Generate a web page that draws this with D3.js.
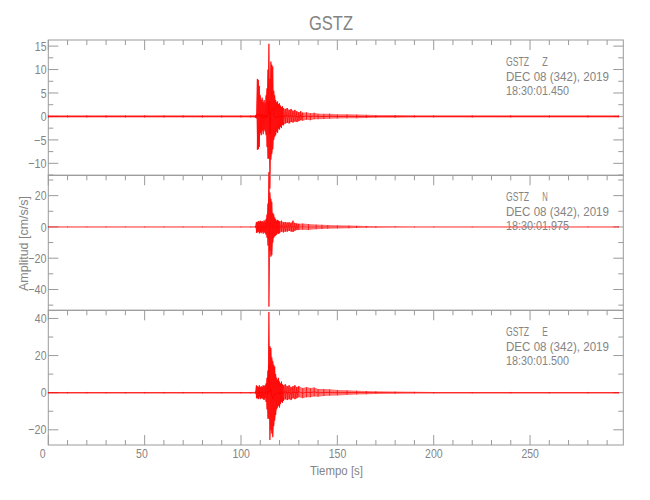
<!DOCTYPE html>
<html><head><meta charset="utf-8">
<script src="https://cdn.jsdelivr.net/npm/d3@7"></script>
<style>
body{margin:0;background:#fff}
text{font-family:'Liberation Sans','DejaVu Sans',sans-serif;fill:#848484}
</style>
</head><body>
<svg id="c" width="650" height="500"></svg>
<script>
// ---------- data ----------
const station = "GSTZ";
const dateLabel = "DEC 08 (342), 2019";
const components = ["Z", "N", "E"];
const startTimes = ["18:30:01.450", "18:30:01.975", "18:30:01.500"];
const xTicks = [0, 50, 100, 150, 200, 250];
const timeDomain = [0, 298.4];

const zTicks = [-10, -5, 0, 5, 10, 15];
const nTicks = [-40, -20, 0, 20];
const eTicks = [-20, 0, 20, 40];
const zRange = [-12.55, 16.3];
const nRange = [-53.3, 33];
const eRange = [-28.2, 44.4];

// envelope of each trace (time [s], upper and lower amplitude [cm/s/s])
const zTime = [0,10,20,30,40,50,60,70,80,90,100,105,107.5,108,108.5,109,109.5,110,110.5,111,111.5,112,112.5,113,113.5,114,114.5,115,115.5,116,116.5,117,117.5,118,118.5,119,119.5,120,120.5,121,121.5,122,123,124,125,126,127,128,129,130,131,132,134,136,138,140,143,146,150,155,160,165,170,180,190,200,220,240,260,280,296];
const zUp   = [0.25,0.25,0.25,0.25,0.25,0.25,0.25,0.25,0.25,0.25,0.25,0.25,0.3,0.4,8.0,7.8,6.5,4.5,3.5,4.0,3.0,3.5,2.8,4.5,6.0,10.0,15.5,8.0,11.7,11.0,10.6,5.5,4.5,3.5,3.0,3.2,2.6,2.8,2.3,2.0,2.2,1.8,1.6,1.8,1.4,1.6,1.2,1.4,1.1,0.9,1.1,0.8,0.9,0.7,0.8,0.6,0.55,0.6,0.45,0.45,0.4,0.35,0.3,0.3,0.25,0.25,0.25,0.25,0.25,0.25,0.25];
const zLow  = [-0.25,-0.25,-0.25,-0.25,-0.25,-0.25,-0.25,-0.25,-0.25,-0.25,-0.25,-0.25,-0.3,-0.4,-7.1,-7.0,-6.5,-3.5,-4.0,-3.0,-3.8,-2.8,-3.2,-4.0,-6.5,-9.0,-9.0,-15.4,-9.2,-8.0,-7.0,-5.0,-4.3,-4.0,-3.2,-3.5,-2.6,-2.8,-2.2,-2.5,-1.8,-1.9,-1.5,-1.4,-1.5,-1.2,-1.3,-1.1,-1.2,-1.0,-0.8,-0.9,-0.7,-0.8,-0.6,-0.6,-0.55,-0.5,-0.45,-0.4,-0.4,-0.35,-0.3,-0.3,-0.25,-0.25,-0.25,-0.25,-0.25,-0.25,-0.25];

const nTime = [0,10,20,30,40,50,60,70,80,90,100,105,107.5,108,108.5,109,109.5,110,110.5,111,111.5,112,112.5,113,113.5,114,114.5,115,115.5,116,116.5,117,117.5,118,118.5,119,119.5,120,121,122,123,124,125,126,127,128,129,130,132,135,139,142,145,150,156,160,165,170,180,190,200,220,240,260,280,296];
const nUp   = [0.3,0.3,0.3,0.3,0.3,0.3,0.3,0.3,0.3,0.3,0.3,0.3,0.4,3.2,3.0,3.8,3.3,4.0,3.3,3.8,3.0,4.2,3.4,5.0,8.0,15.0,35.0,22.0,18.0,16.0,9.0,8.0,6.0,5.0,4.0,4.5,4.0,3.5,4.0,3.0,3.2,2.8,3.0,2.6,4.0,2.5,2.2,2.0,2.2,1.8,1.5,1.4,1.2,1.0,0.9,0.7,0.6,0.5,0.4,0.35,0.3,0.3,0.3,0.3,0.3,0.3];
const nLow  = [-0.3,-0.3,-0.3,-0.3,-0.3,-0.3,-0.3,-0.3,-0.3,-0.3,-0.3,-0.3,-0.4,-3.8,-3.5,-3.0,-4.2,-3.4,-4.0,-3.0,-4.3,-3.4,-4.0,-5.0,-7.0,-12.0,-51.0,-15.0,-19.0,-18.0,-10.0,-7.0,-6.0,-5.5,-5.0,-4.0,-4.5,-4.0,-3.0,-3.5,-3.0,-3.0,-2.5,-3.0,-3.2,-2.4,-2.0,-2.0,-1.8,-2.0,-1.5,-1.4,-1.2,-1.0,-0.9,-0.7,-0.6,-0.5,-0.4,-0.35,-0.3,-0.3,-0.3,-0.3,-0.3,-0.3];

const eTime = [0,10,20,30,40,50,60,70,80,90,100,105,107.5,108,108.5,109,109.5,110,110.5,111,111.5,112,112.5,113,113.5,114,114.5,115,115.5,116,116.5,117,117.5,118,118.5,119,119.5,120,120.5,121,121.5,122,123,124,125,126,127,128,129,130,132,134,136,138,140,143,146,150,155,160,165,170,180,190,200,220,240,260,280,296];
const eUp   = [0.4,0.4,0.4,0.4,0.4,0.4,0.4,0.4,0.4,0.4,0.4,0.4,0.5,4.0,3.5,3.0,4.0,3.0,3.5,3.0,4.0,3.5,4.0,5.0,8.0,12.0,43.5,25.0,24.0,19.0,17.0,15.0,14.0,10.0,8.0,7.0,8.0,6.0,5.0,6.0,4.5,4.0,4.5,3.5,4.0,3.0,3.5,4.0,3.0,3.5,2.5,3.0,2.5,2.8,2.0,2.0,1.8,1.5,1.3,1.1,0.9,0.8,0.6,0.5,0.4,0.4,0.4,0.4,0.4,0.4];
const eLow  = [-0.4,-0.4,-0.4,-0.4,-0.4,-0.4,-0.4,-0.4,-0.4,-0.4,-0.4,-0.4,-0.5,-3.0,-3.0,-3.5,-2.5,-3.5,-3.0,-3.0,-3.5,-4.0,-3.0,-5.0,-9.0,-14.0,-14.0,-25.5,-20.0,-22.0,-24.0,-18.0,-15.0,-12.0,-9.0,-8.0,-7.0,-8.0,-6.0,-5.0,-5.5,-4.5,-3.5,-4.0,-3.5,-4.0,-3.0,-3.5,-3.0,-2.5,-3.0,-2.5,-2.5,-2.0,-2.2,-1.8,-1.6,-1.5,-1.2,-1.0,-0.9,-0.7,-0.6,-0.5,-0.4,-0.4,-0.4,-0.4,-0.4,-0.4];

// ---------- layout ----------
const svg = d3.select("#c");
const left = 48.3, right = 623.3;
const tops = [40, 175.3, 310.3], bottoms = [175.3, 310.3, 445];
const axisColor = "#9a9a9a";
const traceColor = "#ff0000";
const baseOpacity = [0.85, 0.4, 0.75];
const charW = 5.85;

function label(sel, str, x, y, size, width, anchor) {
  const t = sel.append("text").attr("x", x).attr("y", y).attr("font-size", size)
    .attr("text-anchor", anchor || "start").text(str);
  if (width) t.attr("textLength", width).attr("lengthAdjust", "spacingAndGlyphs");
  return t;
}
function numWidth(v) {
  const s = String(Math.abs(v));
  return s.length * charW + (v < 0 ? 6.6 : 0);
}

const x = d3.scaleLinear().domain(timeDomain).range([left, right]);

const panels = [
  {t: zTime, up: zUp, lo: zLow, ticks: zTicks, range: zRange, minor: 2.5},
  {t: nTime, up: nUp, lo: nLow, ticks: nTicks, range: nRange, minor: 10},
  {t: eTime, up: eUp, lo: eLow, ticks: eTicks, range: eRange, minor: 10}
];

const xMinor = d3.range(0, 298.4, 10);

panels.forEach((p, i) => {
  const y = d3.scaleLinear().domain(p.range).range([bottoms[i], tops[i]]);
  const g = svg.append("g");
  g.append("rect").attr("x", left).attr("y", tops[i]).attr("width", right - left).attr("height", bottoms[i] - tops[i])
    .attr("fill", "none").attr("stroke", axisColor).attr("stroke-width", 1);
  const yMinor = d3.range(Math.ceil(p.range[0] / p.minor) * p.minor, p.range[1], p.minor);
  yMinor.forEach(v => {
    const len = p.ticks.includes(v) ? 10 : 5;
    g.append("line").attr("x1", left).attr("x2", left + len).attr("y1", y(v)).attr("y2", y(v)).attr("stroke", axisColor);
    g.append("line").attr("x1", right).attr("x2", right - len).attr("y1", y(v)).attr("y2", y(v)).attr("stroke", axisColor);
  });
  xMinor.forEach(v => {
    const len = xTicks.includes(v) ? 10 : 5;
    g.append("line").attr("x1", x(v)).attr("x2", x(v)).attr("y1", tops[i]).attr("y2", tops[i] + len).attr("stroke", axisColor);
    if (i === 2) g.append("line").attr("x1", x(v)).attr("x2", x(v)).attr("y1", bottoms[i]).attr("y2", bottoms[i] - len).attr("stroke", axisColor);
  });
  const fmt = d3.format("d");
  p.ticks.forEach(v => label(g, fmt(v), left - 1.8, y(v) + 4.7, 13, numWidth(v), "end"));

  // trace: filled envelope + oscillation strokes
  const idx = d3.range(p.t.length);
  const area = d3.area().x(k => x(p.t[k])).y0(k => y(p.lo[k])).y1(k => y(p.up[k]));
  g.append("path").attr("d", area(idx)).attr("fill", traceColor).attr("fill-opacity", 0.55).attr("stroke", "none");
  const pts = [];
  idx.forEach(k => {
    pts.push([p.t[k], p.up[k]]);
    pts.push([p.t[k], p.lo[k]]);
    if (k < idx.length - 1 && p.t[k + 1] - p.t[k] > 1) pts.push(null);
  });
  const line = d3.line().defined(d => d !== null).x(d => x(d[0])).y(d => y(d[1]));
  g.append("path").attr("d", line(pts)).attr("fill", "none").attr("stroke", traceColor)
    .attr("stroke-width", 0.9).attr("stroke-opacity", 0.8);
  g.append("path").attr("d", d3.line().x(k => x(p.t[k])).y(k => y((p.up[k] + p.lo[k]) / 2))(idx))
    .attr("fill", "none").attr("stroke", traceColor).attr("stroke-width", 1).attr("stroke-opacity", baseOpacity[i]);

  // annotations
  label(g, station, 506, tops[i] + 26, 13, 23);
  label(g, components[i], 542.3, tops[i] + 26, 13, 5.5);
  label(g, dateLabel, 506, tops[i] + 40.5, 13, 103);
  label(g, startTimes[i], 506, tops[i] + 55, 13, 63);
});

// x tick labels
xTicks.forEach(v => label(svg, String(v), x(v) - 8.6, 458, 13, numWidth(v)));
// axis titles
label(svg, "Tiempo [s]", 310, 475, 13, 53);
svg.append("text").attr("transform", "translate(27.5,291) rotate(-90)").attr("font-size", 13)
  .attr("textLength", 95).attr("lengthAdjust", "spacingAndGlyphs").text("Amplitud [cm/s/s]");
label(svg, station, 309, 30, 21, 44);
</script>
</body></html>
